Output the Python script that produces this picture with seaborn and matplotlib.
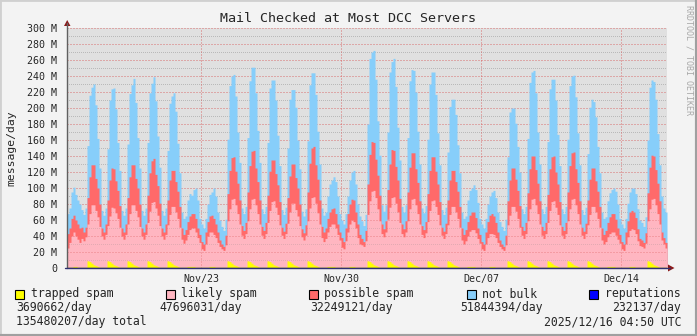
import numpy as np
import pandas as pd
import matplotlib
matplotlib.use("Agg")
import matplotlib.pyplot as plt
from matplotlib.patches import Rectangle, Polygon
from matplotlib.lines import Line2D
import seaborn as sns

# ---------------- data (million messages/day, 2.4-hour slots) ----------------
days = ["Nov 16", "Nov 17", "Nov 18", "Nov 19", "Nov 20", "Nov 21", "Nov 22",
        "Nov 23", "Nov 24", "Nov 25", "Nov 26", "Nov 27", "Nov 28", "Nov 29",
        "Nov 30", "Dec 01", "Dec 02", "Dec 03", "Dec 04", "Dec 05", "Dec 06",
        "Dec 07", "Dec 08", "Dec 09", "Dec 10", "Dec 11", "Dec 12", "Dec 13",
        "Dec 14", "Dec 15", "Dec 16"]

trapped_spam = [
    [1, 1, 1, 2, 2, 1, 1],
    [1, 1, 1, 9, 8, 6, 4, 3, 2, 1], [1, 1, 1, 9, 8, 6, 4, 3, 2, 1],
    [1, 1, 1, 9, 8, 6, 4, 3, 2, 1], [1, 1, 1, 9, 8, 6, 4, 3, 2, 1],
    [1, 1, 1, 9, 8, 6, 4, 3, 2, 1], [1, 1, 1, 2, 2, 2, 2, 1, 1, 1],
    [1, 1, 1, 1, 2, 2, 2, 1, 1, 1],
    [1, 1, 1, 9, 8, 6, 4, 3, 2, 1], [1, 1, 1, 9, 8, 6, 4, 3, 2, 1],
    [1, 1, 1, 9, 8, 6, 4, 3, 2, 1], [1, 1, 1, 9, 8, 6, 4, 3, 2, 1],
    [1, 1, 1, 9, 8, 6, 4, 3, 2, 1], [1, 1, 1, 2, 2, 2, 2, 1, 1, 1],
    [1, 1, 1, 1, 2, 2, 2, 1, 1, 1],
    [1, 1, 1, 9, 8, 6, 4, 3, 2, 1], [1, 1, 1, 9, 8, 6, 4, 3, 2, 1],
    [1, 1, 1, 9, 8, 6, 4, 3, 2, 1], [1, 1, 1, 9, 8, 6, 4, 3, 2, 1],
    [1, 1, 1, 9, 8, 6, 4, 3, 2, 1], [1, 1, 1, 2, 2, 2, 2, 1, 1, 1],
    [1, 1, 1, 1, 2, 2, 2, 1, 1, 1],
    [1, 1, 1, 9, 8, 6, 4, 3, 2, 1], [1, 1, 1, 9, 8, 6, 4, 3, 2, 1],
    [1, 1, 1, 9, 8, 6, 4, 3, 2, 1], [1, 1, 1, 9, 8, 6, 4, 3, 2, 1],
    [1, 1, 1, 9, 8, 6, 4, 3, 2, 1], [1, 1, 1, 2, 2, 2, 2, 1, 1, 1],
    [1, 1, 1, 1, 2, 2, 2, 1, 1, 1],
    [1, 1, 1, 9, 8, 6, 4, 3, 2, 1],
    [1, 1, 1],
]

likely_spam = [
    [24, 31, 39, 43, 38, 35, 31],
    [36, 33, 38, 46, 60, 73, 75, 69, 62, 51],
    [39, 35, 41, 44, 57, 70, 71, 66, 60, 50],
    [39, 35, 41, 46, 60, 73, 75, 69, 62, 51],
    [39, 35, 41, 48, 63, 76, 79, 72, 64, 52],
    [39, 35, 41, 45, 59, 71, 73, 67, 60, 50],
    [35, 30, 34, 40, 46, 48, 48, 44, 37, 31],
    [23, 21, 29, 39, 43, 43, 40, 37, 31, 26],
    [23, 21, 28, 50, 66, 80, 83, 76, 66, 54],
    [40, 36, 42, 50, 66, 80, 83, 76, 66, 54],
    [40, 36, 42, 48, 64, 77, 80, 73, 65, 53],
    [40, 36, 42, 47, 62, 75, 77, 70, 63, 52],
    [38, 34, 40, 50, 67, 82, 85, 78, 67, 54],
    [37, 32, 36, 43, 50, 53, 53, 49, 41, 34],
    [25, 23, 33, 44, 53, 58, 56, 49, 37, 29],
    [28, 26, 33, 58, 76, 90, 93, 85, 72, 58],
    [42, 38, 44, 52, 68, 82, 85, 78, 68, 56],
    [42, 38, 44, 50, 66, 80, 83, 76, 66, 54],
    [41, 37, 43, 49, 64, 78, 81, 74, 65, 53],
    [40, 36, 42, 45, 59, 71, 73, 67, 60, 50],
    [34, 29, 33, 38, 44, 46, 46, 43, 36, 30],
    [23, 21, 29, 37, 41, 41, 40, 37, 31, 26],
    [23, 21, 28, 45, 58, 71, 73, 68, 60, 50],
    [40, 36, 42, 50, 66, 80, 83, 76, 66, 54],
    [40, 36, 42, 48, 64, 77, 80, 73, 65, 53],
    [40, 36, 42, 50, 66, 80, 83, 76, 66, 54],
    [40, 36, 42, 45, 59, 71, 73, 67, 60, 50],
    [34, 29, 32, 37, 41, 43, 43, 40, 35, 30],
    [23, 21, 29, 38, 45, 47, 46, 42, 33, 27],
    [26, 24, 30, 50, 66, 80, 83, 76, 66, 54],
    [34, 29, 24],
]

possible_spam = [
    [18, 18, 22, 21, 20, 19, 18],
    [14, 11, 12, 33, 46, 50, 50, 40, 36, 28],
    [10, 9, 13, 32, 45, 49, 49, 40, 35, 27],
    [10, 9, 13, 33, 46, 50, 50, 40, 36, 28],
    [10, 9, 13, 34, 48, 52, 54, 42, 37, 28],
    [10, 9, 13, 31, 43, 45, 45, 38, 34, 26],
    [14, 11, 13, 16, 17, 18, 18, 17, 12, 10],
    [9, 8, 15, 18, 20, 21, 20, 17, 13, 8],
    [6, 5, 12, 34, 48, 52, 52, 42, 38, 30],
    [12, 10, 14, 36, 54, 60, 60, 46, 40, 30],
    [11, 10, 14, 34, 49, 52, 51, 42, 37, 29],
    [10, 9, 13, 32, 45, 49, 49, 40, 35, 27],
    [10, 9, 13, 36, 56, 62, 63, 48, 42, 30],
    [14, 12, 13, 17, 18, 19, 20, 18, 13, 10],
    [12, 9, 16, 23, 25, 26, 27, 20, 17, 12],
    [8, 6, 13, 38, 58, 62, 60, 48, 42, 32],
    [12, 10, 14, 37, 54, 60, 58, 46, 40, 30],
    [12, 10, 14, 36, 52, 58, 57, 45, 39, 29],
    [11, 10, 14, 35, 50, 55, 54, 44, 38, 29],
    [10, 9, 13, 31, 43, 45, 45, 38, 34, 26],
    [15, 12, 14, 18, 20, 22, 22, 19, 13, 11],
    [9, 8, 15, 20, 23, 25, 23, 19, 13, 8],
    [6, 5, 12, 30, 44, 48, 48, 40, 35, 27],
    [11, 10, 14, 35, 50, 54, 53, 44, 38, 29],
    [11, 10, 14, 35, 52, 56, 56, 44, 38, 29],
    [11, 10, 14, 36, 54, 58, 58, 45, 39, 29],
    [10, 9, 13, 31, 44, 48, 48, 39, 34, 26],
    [15, 12, 14, 18, 21, 23, 23, 20, 14, 11],
    [9, 8, 15, 20, 23, 23, 22, 20, 15, 9],
    [8, 7, 13, 35, 52, 55, 53, 44, 38, 29],
    [10, 8, 7],
]

not_bulk = [
    [25, 25, 33, 35, 32, 30, 30],
    [22, 22, 24, 65, 102, 97, 101, 92, 62, 45],
    [22, 21, 20, 64, 100, 99, 101, 90, 60, 44],
    [22, 21, 20, 67, 104, 100, 108, 95, 63, 45],
    [22, 21, 20, 66, 100, 97, 102, 92, 62, 45],
    [22, 21, 20, 62, 96, 93, 97, 88, 60, 42],
    [20, 20, 17, 27, 28, 23, 30, 38, 35, 20],
    [22, 20, 17, 22, 27, 29, 38, 35, 25, 25],
    [22, 20, 20, 68, 106, 102, 103, 94, 64, 47],
    [22, 21, 20, 68, 106, 105, 104, 94, 64, 47],
    [22, 21, 20, 66, 104, 100, 100, 92, 62, 45],
    [22, 21, 20, 62, 96, 93, 93, 88, 60, 44],
    [22, 21, 20, 64, 98, 94, 92, 88, 60, 45],
    [23, 21, 20, 28, 35, 36, 39, 40, 35, 23],
    [22, 22, 18, 22, 30, 34, 37, 35, 25, 23],
    [22, 20, 20, 75, 120, 112, 115, 100, 68, 50],
    [24, 22, 20, 72, 115, 110, 115, 100, 66, 48],
    [22, 21, 20, 68, 108, 104, 103, 96, 64, 46],
    [22, 21, 20, 68, 108, 106, 106, 96, 64, 46],
    [22, 21, 20, 60, 92, 89, 89, 84, 58, 42],
    [20, 20, 17, 27, 31, 30, 34, 35, 32, 20],
    [22, 20, 17, 22, 24, 27, 32, 31, 25, 23],
    [22, 20, 20, 55, 85, 75, 75, 70, 55, 42],
    [22, 21, 20, 68, 108, 105, 107, 96, 64, 46],
    [22, 21, 20, 66, 100, 97, 96, 90, 62, 45],
    [22, 21, 20, 66, 100, 96, 96, 90, 62, 45],
    [22, 21, 20, 58, 90, 86, 83, 80, 56, 42],
    [20, 20, 17, 27, 30, 30, 32, 35, 30, 20],
    [22, 20, 17, 22, 25, 28, 30, 30, 25, 23],
    [22, 20, 20, 66, 100, 94, 93, 88, 62, 45],
    [45, 37, 38],
]

reputations = [0.2, 0.2, 0.3, 0.2, 0.2, 0.2, 0.2, 0.2, 0.2, 0.3, 0.2, 0.2,
               0.2, 0.2, 0.2, 0.4, 0.4, 0.3, 0.2, 0.2, 0.2, 0.2, 0.2, 0.2,
               0.2, 0.2, 0.2, 0.2, 0.2, 0.2, 0.2]

series_names = ["trapped spam", "likely spam", "possible spam", "not bulk", "reputations"]
series_colors = ["#ffff00", "#ffb6c1", "#ff6a6a", "#87cefa", "#0000ff"]
averages = ["3690662/day", "47696031/day", "32249121/day", "51844394/day", "232137/day"]
total_text = "135480207/day total"
stamp_text = "2025/12/16 04:50 UTC"
tick_days = [7, 14, 21, 28]
tick_labels = ["Nov/23", "Nov/30", "Dec/07", "Dec/14"]
title = "Mail Checked at Most DCC Servers"
ylabel = "message/day"

# ---------------- figure ----------------
sns.set_style("white")
plt.rcParams['font.family'] = ['DejaVu Sans Mono', 'DejaVu Sans']

W, H = 697, 336
fig = plt.figure(figsize=(W / 100, H / 100), dpi=100, facecolor="#f3f3f3")
PL, PR, PT, PB = 67, 667, 28, 268


def fx(px):
    return px / W


def fy(py):
    return 1 - py / H


ax = fig.add_axes([fx(PL), fy(PB), (PR - PL) / W, (PB - PT) / H])
ax.set_facecolor("#e0e0e0")

flat = lambda rows: np.concatenate([np.asarray(r, float) for r in rows])
t = flat(trapped_spam)
l = flat(likely_spam)
p = flat(possible_spam)
nb = flat(not_bulk)
n = len(t)
start = 0.3  # first slot begins Nov 16 07:12
edges = start + np.arange(n + 1) / 10.0

# stacked tops; each layer filled from zero, tallest first (as rrdtool paints)
y1 = t
y2 = y1 + l
y3 = y2 + p
y4 = y3 + nb


def step_xy(top):
    xs = np.repeat(edges, 2)[1:-1]
    ys = np.repeat(top, 2)
    return xs, ys


fills = []
for top, col, z in [(y4, series_colors[3], 1), (y3, series_colors[2], 1.1),
                    (y2, series_colors[1], 1.2), (y1, series_colors[0], 1.4)]:
    xs, ys = step_xy(top)
    fills.append(ax.fill_between(xs, 0, ys, color=col, lw=0, zorder=z, antialiased=False))
pink_fill = fills[2]

rep_df = pd.DataFrame({"day": np.arange(len(reputations) + 1, dtype=float),
                       "value": reputations + [reputations[-1]]})
sns.lineplot(data=rep_df, x="day", y="value", ax=ax, drawstyle="steps-post",
             color="#2020a0", lw=1.0, zorder=3)

ax.set_xlim(start, start + n / 10.0)
ax.set_ylim(0, 300)
ax.set_xlabel("")
ax.set_ylabel("")

# grid: under the data, and showing through the likely-spam area
px1 = 0.72  # one pixel in points
pink_path = pink_fill.get_paths()[0]


def grid_line(horizontal, v, color, dash, alpha, z, clip=False):
    if horizontal:
        ln = ax.axhline(v, color=color, lw=px1, ls=dash, zorder=z, alpha=alpha,
                        antialiased=False)
    else:
        ln = ax.axvline(v, color=color, lw=px1, ls=dash, zorder=z, alpha=alpha,
                        antialiased=False)
    if clip:
        ln.set_clip_path(pink_path, ax.transData)
    return ln


for clip, z, a_min, a_maj in [(False, 0.5, 0.4, 0.42), (True, 1.3, 0.22, 0.28)]:
    for v in range(10, 300, 20):
        grid_line(True, v, "#808080", (0, (1, 2)), a_min, z, clip)
    for v in range(20, 301, 20):
        grid_line(True, v, "#d85858", (0, (1.5, 1.5)), a_maj, z, clip)
    for d in tick_days:
        grid_line(False, d, "#d85858", (0, (1.5, 1.5)), a_maj, z, clip)

yt = list(range(0, 301, 20))
ax.set_yticks(yt)
ax.set_yticklabels(["0" if v == 0 else f"{v} M" for v in yt], fontsize=7.2)
ax.set_xticks(tick_days)
ax.set_xticklabels(tick_labels, fontsize=7.2)
ax.tick_params(axis="y", length=2, width=0.8, color="#909090", pad=5)
ax.tick_params(axis="x", length=0, pad=4)
for s in ax.spines.values():
    s.set_visible(False)

# axes lines and arrows
fig.add_artist(Line2D([fx(PL), fx(PL)], [fy(PB), fy(23)], color="#606060", lw=1.0))
fig.add_artist(Line2D([fx(PL - 2), fx(670)], [fy(PB), fy(PB)], color="#303070", lw=1.0))
fig.add_artist(Polygon([[fx(64), fy(26)], [fx(70.5), fy(26)], [fx(67.2), fy(20)]],
                       closed=True, transform=fig.transFigure, color="#8b1a1a", lw=0))
fig.add_artist(Polygon([[fx(668), fy(264.5)], [fx(668), fy(271.5)], [fx(674.5), fy(268)]],
                       closed=True, transform=fig.transFigure, color="#8b1a1a", lw=0))

# title, labels, watermark
fig.text(0.5, fy(19), title, ha="center", va="center", fontsize=9.6)
fig.text(fx(11), fy(148), ylabel, ha="center", va="center", rotation=90, fontsize=8.2)
fig.text(fx(688.5), fy(5), "RRDTOOL / TOBI OETIKER", ha="center", va="top",
         rotation=-90, fontsize=6.0, color="#a8a8a8")

# legend
sw_x = [15, 166, 309, 467, 589]
lab_x = [31, 181, 324, 482, 605]
for i in range(5):
    fig.add_artist(Rectangle((fx(sw_x[i]), fy(298.5)), 9 / W, 9 / H, transform=fig.transFigure,
                             facecolor=series_colors[i], edgecolor="black", lw=0.8))
    fig.text(fx(lab_x[i]), fy(294), series_names[i], ha="left", va="center", fontsize=8.3)
avg_x = [16, 159, 310, 460]
for i in range(4):
    fig.text(fx(avg_x[i]), fy(308), averages[i], ha="left", va="center", fontsize=8.3)
fig.text(fx(681), fy(308), averages[4], ha="right", va="center", fontsize=8.3)
fig.text(fx(16), fy(322), total_text, ha="left", va="center", fontsize=8.3)
fig.text(fx(681), fy(322), stamp_text, ha="right", va="center", fontsize=8.3)

# image border
fig.add_artist(Line2D([0, 0, 1], [0, 1, 1], color="#d0d0d0", lw=2, transform=fig.transFigure))
fig.add_artist(Line2D([0, 1, 1], [0, 0, 1], color="#a0a0a0", lw=3, transform=fig.transFigure))

fig.savefig("out.png", dpi=100, facecolor=fig.get_facecolor())
